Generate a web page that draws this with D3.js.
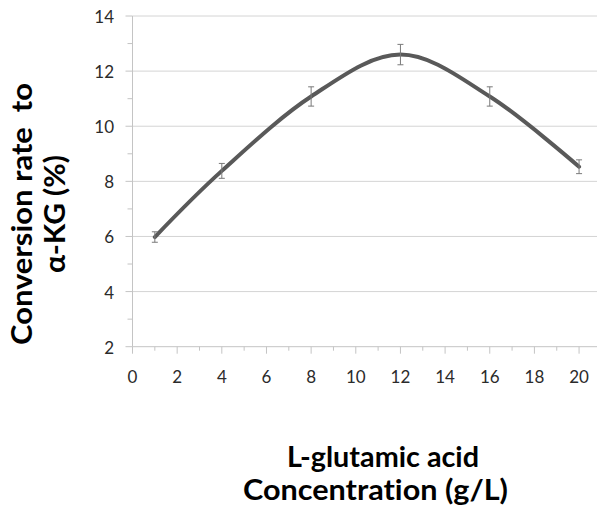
<!DOCTYPE html>
<html>
<head>
<meta charset="utf-8">
<script src="https://unpkg.com/d3@7/dist/d3.min.js"></script>
<style>
  body { margin: 0; background: #fff; }
  svg { display: block; }
  .tick-label { font-family: Lato, "Open Sans", sans-serif; font-size: 17px; fill: #2b2b2b; }
  .title { font-family: Lato, "Open Sans", sans-serif; font-weight: bold; font-size: 28px; fill: #000; white-space: pre; font-variant-ligatures: none; }
</style>
</head>
<body>
<div id="vis"></div>
<script>
// chart data
const concentration = [1, 4, 8, 12, 16, 20];
const conversionRate = [5.98, 8.38, 11.08, 12.6, 11.08, 8.53];
const errorValues = [0.19, 0.27, 0.35, 0.37, 0.35, 0.25];
const xTicks = [0, 2, 4, 6, 8, 10, 12, 14, 16, 18, 20];
const yTicks = [2, 4, 6, 8, 10, 12, 14];

const width = 597, height = 515;

const svg = d3.select("#vis")
  .append("svg")
  .attr("width", width)
  .attr("height", height);

const x = d3.scaleLinear().domain([0, 21]).range([132.5, 601.4]);
const y = d3.scaleLinear().domain([2, 14]).range([346.7, 16]);

// horizontal gridlines
svg.selectAll(".grid")
  .data(yTicks.slice(1))
  .enter().append("line")
  .attr("x1", x(0)).attr("x2", width)
  .attr("y1", d => y(d)).attr("y2", d => y(d))
  .attr("stroke", "#d4d4d4")
  .attr("stroke-width", 1);

// axes lines
svg.append("line")
  .attr("x1", x(0)).attr("x2", width)
  .attr("y1", y(2)).attr("y2", y(2))
  .attr("stroke", "#c4c4c4");
svg.append("line")
  .attr("x1", x(0)).attr("x2", x(0))
  .attr("y1", y(2)).attr("y2", y(14))
  .attr("stroke", "#c4c4c4");

// y major + minor ticks
const yMinor = d3.range(2, 14.01, 1);
svg.selectAll(".ytick")
  .data(yMinor)
  .enter().append("line")
  .attr("x1", d => d % 2 === 0 ? x(0) - 7 : x(0) - 5)
  .attr("x2", x(0))
  .attr("y1", d => y(d)).attr("y2", d => y(d))
  .attr("stroke", "#c4c4c4");

// x major + minor ticks
const xMinor = d3.range(0, 21, 1);
svg.selectAll(".xtick")
  .data(xMinor)
  .enter().append("line")
  .attr("x1", d => x(d)).attr("x2", d => x(d))
  .attr("y1", y(2))
  .attr("y2", d => d % 2 === 0 ? y(2) + 7 : y(2) + 4)
  .attr("stroke", "#c4c4c4");

svg.selectAll(".ylab")
  .data(yTicks)
  .enter().append("text")
  .attr("class", "tick-label")
  .attr("x", 114)
  .attr("y", d => y(d) + 7)
  .attr("text-anchor", "end")
  .text(d => d);

svg.selectAll(".xlab")
  .data(xTicks)
  .enter().append("text")
  .attr("class", "tick-label")
  .attr("x", d => x(d))
  .attr("y", 383)
  .attr("text-anchor", "middle")
  .text(d => d);

// smoothed line
const pts = concentration.map((c, i) => [x(c), y(conversionRate[i])]);
const line = d3.line().curve(d3.curveCardinal.tension(0));
svg.append("path")
  .attr("d", line(pts))
  .attr("fill", "none")
  .attr("stroke", "#595959")
  .attr("stroke-width", 4)
  .attr("stroke-linecap", "round");

// error bars
const eb = svg.selectAll(".err")
  .data(concentration.map((c, i) => ({ c: c, v: conversionRate[i], e: errorValues[i] })))
  .enter().append("g");
eb.append("line")
  .attr("x1", d => x(d.c)).attr("x2", d => x(d.c))
  .attr("y1", d => y(d.v + d.e)).attr("y2", d => y(d.v - d.e))
  .attr("stroke", "#7a7a7a").attr("stroke-width", 1);
eb.append("line")
  .attr("x1", d => x(d.c) - 3).attr("x2", d => x(d.c) + 3)
  .attr("y1", d => y(d.v + d.e)).attr("y2", d => y(d.v + d.e))
  .attr("stroke", "#7a7a7a").attr("stroke-width", 1);
eb.append("line")
  .attr("x1", d => x(d.c) - 3).attr("x2", d => x(d.c) + 3)
  .attr("y1", d => y(d.v - d.e)).attr("y2", d => y(d.v - d.e))
  .attr("stroke", "#7a7a7a").attr("stroke-width", 1);

// y title
svg.append("text")
  .attr("class", "title")
  .attr("transform", "translate(32,214) rotate(-90)")
  .attr("text-anchor", "middle")
  .attr("textLength", 262)
  .attr("lengthAdjust", "spacingAndGlyphs")
  .text("Conversion rate  to");
svg.append("text")
  .attr("class", "title")
  .attr("transform", "translate(65,214) rotate(-90)")
  .attr("text-anchor", "middle")
  .attr("textLength", 118)
  .attr("lengthAdjust", "spacingAndGlyphs")
  .text("α-KG (%)");

// x title
svg.append("text")
  .attr("class", "title")
  .attr("x", 383).attr("y", 467)
  .attr("text-anchor", "middle")
  .attr("textLength", 192)
  .attr("lengthAdjust", "spacingAndGlyphs")
  .text("L-glutamic acid");
svg.append("text")
  .attr("class", "title")
  .attr("x", 375.5).attr("y", 500)
  .attr("text-anchor", "middle")
  .attr("textLength", 265)
  .attr("lengthAdjust", "spacingAndGlyphs")
  .text("Concentration (g/L)");
</script>
</body>
</html>
